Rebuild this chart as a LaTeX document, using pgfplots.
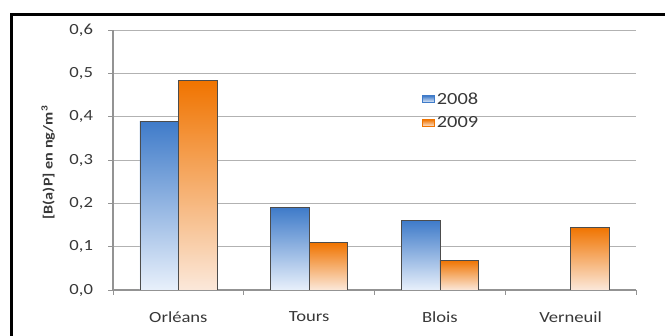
\documentclass[border=0pt]{standalone}
\usepackage{pgfplots}
\pgfplotsset{compat=1.18}
\usepackage{fontspec}
\setmainfont{Carlito}[FakeStretch=1.2]
\definecolor{bluetop}{HTML}{3F7BC9}
\definecolor{bluemid}{HTML}{5A8FD5}
\definecolor{bluebot}{HTML}{E8F0FB}
\definecolor{orgtop}{HTML}{F07400}
\definecolor{orgmid}{HTML}{F2862A}
\definecolor{orgbot}{HTML}{FBE8DA}
\definecolor{txt}{HTML}{383838}
\pgfplotsset{
  bluebar/.style={ybar, bar width=38.5bp, bar shift=-19.25bp, draw=gray!60!black, line width=0.7bp,
    top color=bluetop, middle color=bluemid, bottom color=bluebot},
  orgbar/.style={ybar, bar width=38.5bp, bar shift=19.25bp, draw=gray!60!black, line width=0.7bp,
    top color=orgtop, middle color=orgmid, bottom color=orgbot},
}
\begin{document}
\begin{tikzpicture}
\useasboundingbox (0,0) rectangle (665bp,336bp);
\draw[line width=3.5bp] (11.3bp,-20bp) -- (11.3bp,321.7bp) -- (690bp,321.7bp);
\begin{axis}[
  at={(113bp,46bp)}, anchor=south west,
  scale only axis, width=523bp, height=260bp,
  xmin=-0.5, xmax=3.5, ymin=0, ymax=0.6,
  axis x line*=bottom, axis y line*=left,
  axis line style={draw=gray!85, line width=1.2bp},
  xtick={-0.5,0.5,1.5,2.5,3.5},
  x tick label as interval,
  xticklabels={Orléans,Tours,Blois,Verneuil},
  ytick={0,0.1,0.2,0.3,0.4,0.5,0.6},
  major tick length=4.5bp,
  tick style={draw=gray!85, line width=0.8bp},
  tick align=outside,
  ymajorgrids, grid style={draw=gray!60, line width=0.8bp},
  /pgf/number format/assume math mode=true,
  /pgf/number format/.cd, use comma, fixed, fixed zerofill, precision=1,
  /pgfplots/.cd,
  ticklabel style={font=\fontsize{15.5bp}{17bp}\selectfont, text=txt},
  yticklabel style={xshift=-12bp},
  xticklabel style={yshift=-14bp},
  ylabel={[B(a)P] en ng/m\textsuperscript{3}},
  ylabel style={at={(axis description cs:-0.124,0.49)}, anchor=center, font=\fontsize{13.5bp}{15bp}\selectfont\bfseries, text=txt},
  legend style={at={(axis description cs:0.585,0.775)}, anchor=north west, draw=none, fill=none,
    font=\fontsize{17bp}{19bp}\selectfont, text=txt, row sep=7bp},
  legend cell align=left,
]
\addplot[bluebar, legend image code/.code={\fill[bluetop] (0bp,-3.5bp) rectangle (12bp,3.5bp);}]
  coordinates {(0,0.39)};
\addlegendentry{2008}
\addplot[orgbar, legend image code/.code={\fill[orgtop] (0bp,-3.5bp) rectangle (12bp,3.5bp);}]
  coordinates {(0,0.483)};
\addlegendentry{2009}
\addplot[bluebar, forget plot] coordinates {(1,0.19)};
\addplot[bluebar, forget plot] coordinates {(2,0.16)};
\addplot[orgbar, forget plot] coordinates {(1,0.109)};
\addplot[orgbar, forget plot] coordinates {(2,0.069)};
\addplot[orgbar, forget plot] coordinates {(3,0.145)};
\end{axis}
\end{tikzpicture}
\end{document}
